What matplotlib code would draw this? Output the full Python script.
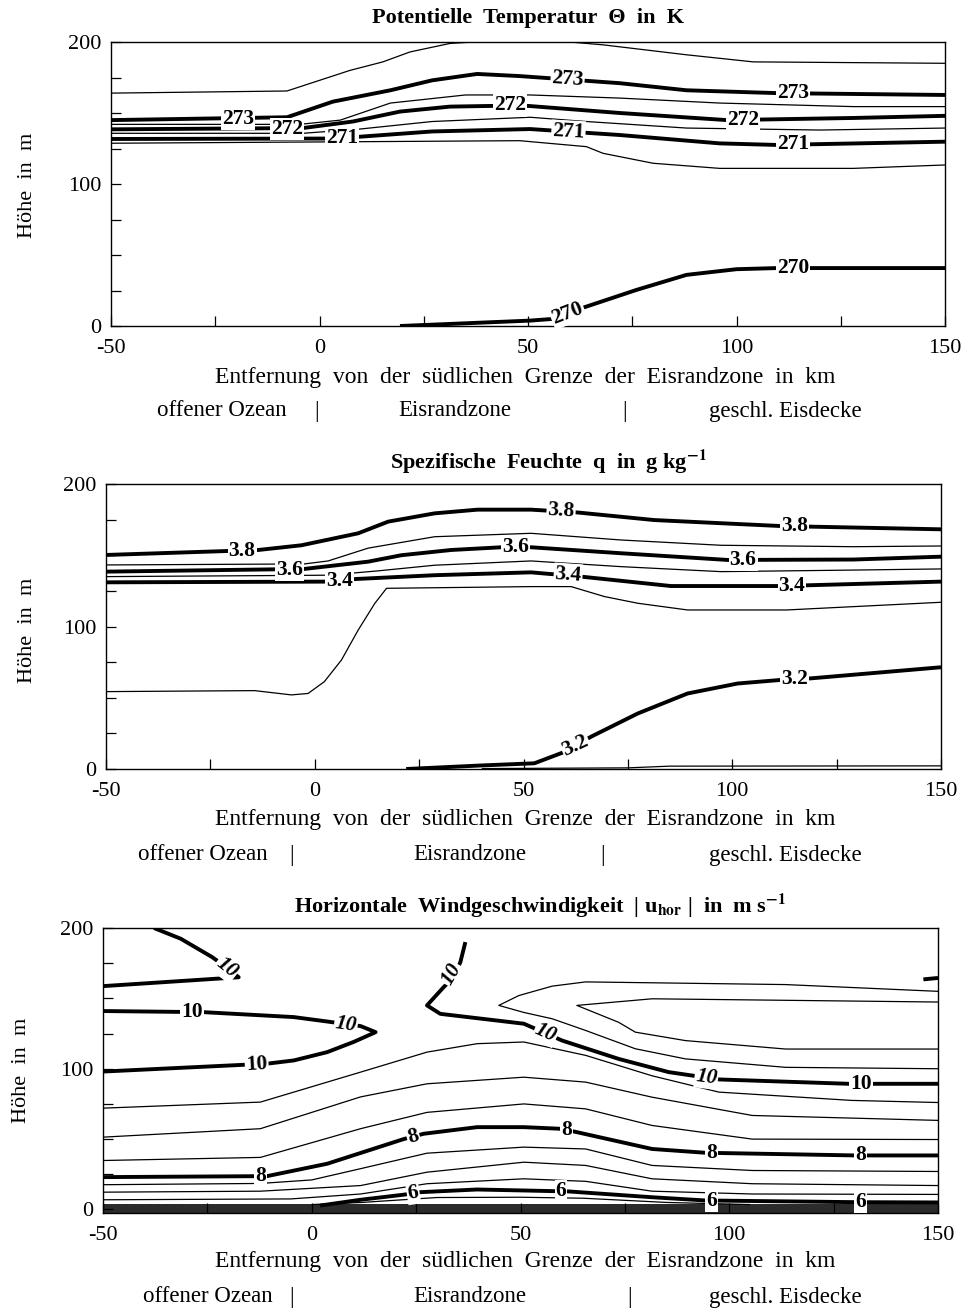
import numpy as np
import matplotlib.pyplot as plt

plt.rcParams['font.family'] = ['Liberation Serif', 'DejaVu Serif']
plt.rcParams['mathtext.fontset'] = 'stix'

W, H = 963, 1312

# ---------------- Panel 1: Potentielle Temperatur (K) ----------------
th_top_x = [-50, -7.8, 7.3, 15.2, 21.7, 31.3, 40, 58, 68, 88, 104, 150]
th_top_y = [164, 165.5, 180, 186, 193, 199, 200.5, 200.5, 198, 191, 186, 185]
th_273_x = [-50, -7.8, 3.2, 17, 27, 37.8, 48, 72, 88, 109.7, 150]
th_273_y = [145, 147, 158, 166, 173, 177.5, 176, 171, 166, 164, 162.7]
th_t1_x = [-50, -4.7, 5, 17, 35, 50.5, 72, 96, 128, 150]
th_t1_y = [142, 142, 145, 157, 162.7, 162.7, 160.5, 157, 154.5, 154.5]
th_272_x = [-50, -4, 8, 19.3, 31.3, 41.6, 50, 72, 97.7, 128, 150]
th_272_y = [138.5, 139.4, 144, 151, 154.5, 155, 155, 150, 145, 146.5, 148]
th_t2_x = [-50, -4, 9.7, 27, 50.5, 64, 88, 120, 150]
th_t2_y = [135.7, 135.7, 138.7, 144, 147, 144, 139.4, 138, 139.4]
th_271_x = [-50, 1.8, 9.7, 27, 50.5, 72, 96, 109.7, 150]
th_271_y = [131.7, 132, 133.3, 137, 138.7, 134.5, 128.6, 127.5, 129.8]
th_t3_x = [-50, 48, 64, 68, 80, 96, 128, 150]
th_t3_y = [128.7, 130.5, 126.3, 121.6, 114.6, 111, 111, 113.4]
th_270_x = [19.3, 50.5, 56, 63, 76, 88, 100, 109.7, 150]
th_270_y = [0, 3.8, 5, 12.7, 25.4, 36, 40, 40.8, 40.8]

th_lab_x = [-19.6, -7.8, 5.4, 45.6, 59.5, 59.7, 101.5, 113.5, 113.5, 113.5, 59.5]
th_lab_y = [146, 139, 132.5, 155.3, 174, 137, 145.2, 164, 128, 40.8, 8.8]
th_lab_txt = ['273', '272', '271', '272', '273', '271', '272', '273', '271', '270', '270']
th_lab_rot = [0, 0, 0, 0, -4, -3, 0, 0, 0, 0, 21]

# ---------------- Panel 2: Spezifische Feuchte (g/kg) ----------------
q_38_x = [-50, -20.7, -13.5, -3.2, 10.4, 17.6, 28.7, 39, 51.8, 63, 81.3, 111.6, 150]
q_38_y = [150.2, 153, 153.7, 157, 165.4, 173.6, 179.4, 182, 182, 180, 174.7, 170.5, 168.2]
q_ta_x = [-50, -2.5, 3.2, 12.8, 28.7, 51.8, 73.4, 97.3, 129, 150]
q_ta_y = [143.2, 143.9, 146, 155, 163, 165.4, 160.7, 157, 156, 156.5]
q_36_x = [-50, -2.5, 12.8, 20.7, 32.7, 44.7, 51.8, 73.4, 98.9, 129, 150]
q_36_y = [138.5, 140.4, 145.5, 150, 153.7, 155.6, 155.6, 151.4, 146.7, 147, 149]
q_tb_x = [-50, 3.2, 15, 28.7, 51.8, 73.4, 97.3, 129, 150]
q_tb_y = [135, 136, 139, 143, 146, 142, 138.5, 139.6, 140.4]
q_34_x = [-50, 3.3, 9.6, 28.7, 51.8, 63.8, 85.3, 111.6, 150]
q_34_y = [131, 131.5, 133.3, 136, 138, 135, 128.4, 128.4, 131.5]
q_tc_x = [-50, -14.4, -5.6, -1.6, 2.3, 6.4, 10.4, 14.4, 17.2, 51.8, 61.4, 69.4, 77.4, 89.3, 113, 150]
q_tc_y = [54.3, 55, 52, 53, 61.3, 76.5, 97.5, 116.3, 126.8, 128, 128, 121, 116.3, 111.6, 111.6, 117]
q_32_x = [21.9, 40, 52.6, 60, 66.2, 77.4, 89.3, 101.3, 111.6, 118.8, 150]
q_32_y = [0, 2.5, 4, 12.2, 22.7, 39, 53, 60, 62.5, 63.6, 71.4]
q_td_x = [40, 75, 85, 150]
q_td_y = [0.3, 0.8, 2, 2.2]

q_lab_x = [-17.4, -6, 6, 48, 59, 60.7, 102.6, 115, 114.3, 115, 62.5]
q_lab_y = [153.3, 139.6, 131.8, 155.6, 181, 136.5, 146.7, 170.2, 128.4, 63.2, 16]
q_lab_txt = ['3.8', '3.6', '3.4', '3.6', '3.8', '3.4', '3.6', '3.8', '3.4', '3.2', '3.2']
q_lab_rot = [0, 0, 0, 0, -3, -4, 0, 0, 0, 0, 25]

# ---------------- Panel 3: Horizontale Windgeschwindigkeit (m/s) ----------------
u_10a_x = [-37.8, -31.4, -23.9, -20.4, -17.5, -50]
u_10a_y = [200, 192.4, 179.4, 172, 165, 158.7]
u_10b_x = [-50, -25.9, -4.3, 3.6, 11.7, 15.3, 10, 3.7, -4.3, -10.7, -50]
u_10b_y = [141, 140.2, 136.7, 133.6, 130.3, 126, 119, 111.8, 105.9, 103.6, 98]
u_10c_x = [36.8, 35.6, 34, 31.6, 27.6, 30.8, 50.8, 60, 73.5, 85.5, 97.5, 128.6, 150]
u_10c_y = [190, 175.8, 165, 158, 145, 139, 132, 120, 107, 97.6, 92.4, 89.3, 89.3]
u_10d_x = [146.5, 150]
u_10d_y = [163.5, 164.5]
u_tongue_x = [150, 113.5, 65.6, 57.6, 49.6, 44.8, 50.8, 57.6, 65.6, 77.5, 89.5, 113.5, 150]
u_tongue_y = [155, 159.8, 161.7, 158.7, 152, 145, 140, 135.5, 127.2, 114.2, 107, 101, 100]
u_inner_x = [150, 81.5, 63.5, 73.5, 77.5, 89.5, 113.5, 150]
u_inner_y = [147.4, 149.7, 145, 133, 126, 120, 114, 114]
u_t72_x = [-50, -12.3, 11.7, 27.6, 39.6, 50.8, 65.6, 81.5, 97.5, 129.3, 150]
u_t72_y = [72, 76.3, 97.6, 111.8, 117.8, 119, 109.5, 95, 83.4, 77.5, 76]
u_t51_x = [-50, -12.3, 11.7, 27.6, 50.8, 65.6, 81.5, 105.5, 150]
u_t51_y = [51.4, 57.4, 80, 89.3, 94, 90.5, 79.8, 66.8, 63.3]
u_t35_x = [-50, -12.3, 11.7, 27.6, 50.8, 65.6, 81.5, 105.5, 150]
u_t35_y = [34.8, 37, 57.4, 69, 75, 71.5, 59.7, 50, 49.7]
u_8_x = [-50, -10.7, 3.7, 22, 26.8, 39.6, 50.8, 59.2, 62.8, 81.5, 94.3, 130.2, 150]
u_8_y = [23, 23.7, 32.5, 50, 53.8, 58.5, 58.5, 57.4, 55.4, 43, 40.3, 38.4, 38.4]
u_t17_x = [-50, -12.3, 0, 11.7, 27.6, 50.8, 65.6, 81.5, 105.5, 150]
u_t17_y = [17.6, 18.5, 21, 29, 40, 44.3, 43, 31.3, 27.7, 27]
u_t12_x = [-50, -12.3, 11.7, 27.6, 50.8, 65.6, 81.5, 105.5, 150]
u_t12_y = [12.3, 13, 17, 26.5, 33.6, 31.3, 21.8, 18.3, 17]
u_t7_x = [-50, -5, 11.7, 27.6, 50.8, 65.6, 81.5, 105.5, 150]
u_t7_y = [6.9, 7.5, 11, 18.3, 21.8, 20, 13, 11, 10.7]
u_6_x = [2, 11.7, 22, 26, 39.6, 50.8, 61.6, 81.5, 94.3, 130.2, 150]
u_6_y = [2.8, 6.9, 10.5, 12.3, 14.2, 13.5, 12.8, 8.7, 6.4, 5.2, 5]
u_t4_x = [0, 12, 30, 50, 65, 85, 105]
u_t4_y = [3.5, 5, 8.5, 8.7, 8, 5, 3.5]
u_band_x = [-50, 150]
u_band_top = [4.2, 4.2]

u_lab_x = [-20.4, -28.7, 8.2, -13.2, 33.6, 56, 94.5, 131.5,
           -12.3, 24.3, 61, 95.8, 131.5, 24.3, 59.7, 95.8, 131.5]
u_lab_y = [171.5, 140.2, 131.7, 103.3, 167, 125.2, 93.7, 89.3,
           23.5, 51.8, 56.4, 40.2, 38.4, 11.5, 13, 6.3, 5.2]
u_lab_txt = ['10'] * 8 + ['8'] * 5 + ['6'] * 4
u_lab_rot = [-38, 0, -8, 3, 60, -24, -7, 0, 0, 15, 0, 0, 0, 9, 0, 0, 0]
u_lab_style = ['italic', 'normal', 'italic', 'normal', 'italic', 'italic', 'italic', 'normal',
               'normal', 'normal', 'normal', 'normal', 'normal', 'normal', 'normal', 'normal', 'normal']

THICK, THIN = 2.8, 0.9


def px_rect(left, right, top, bottom):
    return [left / W, 1 - bottom / H, (right - left) / W, (bottom - top) / H]


def setup_axes(ax, ymin=0):
    ax.set_xlim(-50, 150)
    ax.set_ylim(ymin, 200)
    ax.set_xticks(np.arange(-50, 151, 25))
    ax.set_xticklabels(['-50', '', '0', '', '50', '', '100', '', '150'])
    ax.set_yticks(np.arange(0, 201, 25))
    ax.set_yticklabels(['0', '', '', '', '100', '', '', '', '200'])
    ax.tick_params(direction='in', length=7, width=0.9, labelsize=16,
                   top=False, right=False)
    ax.tick_params(axis='x', pad=9)
    ax.tick_params(axis='y', pad=7)
    for sp in ax.spines.values():
        sp.set_linewidth(1.0)


def draw_lines(ax, lines):
    for xs, ys, lw in lines:
        ax.plot(xs, ys, color='black', lw=lw, solid_capstyle='butt',
                solid_joinstyle='round', zorder=2)


def draw_labels(ax, xs, ys, txts, rots, styles=None):
    for i in range(len(xs)):
        st = styles[i] if styles else 'normal'
        ax.text(xs[i], ys[i], txts[i], rotation=rots[i], rotation_mode='anchor',
                ha='center', va='center', fontsize=15.5, fontweight='bold', style=st,
                bbox=dict(boxstyle='square,pad=0.05', fc='white', ec='none'), zorder=4)


def texts_below(lab_py, zone_py, zone_pos):
    fig.text(525 / W, 1 - lab_py / H,
             'Entfernung  von  der  südlichen  Grenze  der  Eisrandzone  in  km',
             ha='center', va='center', fontsize=17)
    for px, s in zip(zone_pos, ['offener Ozean', '|', 'Eisrandzone', '|', 'geschl. Eisdecke']):
        fig.text(px / W, 1 - zone_py / H, s, ha='center', va='center', fontsize=16.5)


fig = plt.figure(figsize=(W / 100, H / 100), dpi=100)

# panel 1
ax1 = fig.add_axes(px_rect(111, 945, 42, 326))
setup_axes(ax1)
draw_lines(ax1, [(th_top_x, th_top_y, THIN), (th_273_x, th_273_y, THICK),
                 (th_t1_x, th_t1_y, THIN), (th_272_x, th_272_y, THICK),
                 (th_t2_x, th_t2_y, THIN), (th_271_x, th_271_y, THICK),
                 (th_t3_x, th_t3_y, THIN), (th_270_x, th_270_y, THICK)])
draw_labels(ax1, th_lab_x, th_lab_y, th_lab_txt, th_lab_rot)
fig.text(528 / W, 1 - 18 / H, 'Potentielle  Temperatur  Θ  in  K',
         ha='center', va='center', fontsize=16, fontweight='bold')
fig.text(27 / W, 1 - 185 / H, 'Höhe  in  m', rotation=90, ha='center', va='center', fontsize=16)
texts_below(378, 411, [222, 317, 455, 625, 785])

# panel 2
ax2 = fig.add_axes(px_rect(106, 941, 484, 769))
setup_axes(ax2)
draw_lines(ax2, [(q_38_x, q_38_y, THICK), (q_ta_x, q_ta_y, THIN),
                 (q_36_x, q_36_y, THICK), (q_tb_x, q_tb_y, THIN),
                 (q_34_x, q_34_y, THICK), (q_tc_x, q_tc_y, THIN),
                 (q_32_x, q_32_y, THICK), (q_td_x, q_td_y, THIN)])
draw_labels(ax2, q_lab_x, q_lab_y, q_lab_txt, q_lab_rot)
fig.text(548 / W, 1 - 462 / H, r'Spezifische  Feuchte  q  in  g kg$^{\mathbf{-1}}$',
         ha='center', va='center', fontsize=16, fontweight='bold')
fig.text(27 / W, 1 - 630 / H, 'Höhe  in  m', rotation=90, ha='center', va='center', fontsize=16)
texts_below(820, 855, [203, 292, 470, 603, 785])

# panel 3
ax3 = fig.add_axes(px_rect(103, 938, 928, 1213))
setup_axes(ax3, ymin=-2.5)
ax3.fill_between(u_band_x, -2.5, u_band_top, color='#2b2b2b', lw=0, zorder=1)
draw_lines(ax3, [(u_10a_x, u_10a_y, THICK), (u_10b_x, u_10b_y, THICK),
                 (u_10c_x, u_10c_y, THICK), (u_10d_x, u_10d_y, THICK),
                 (u_tongue_x, u_tongue_y, THIN), (u_inner_x, u_inner_y, THIN),
                 (u_t72_x, u_t72_y, THIN), (u_t51_x, u_t51_y, THIN),
                 (u_t35_x, u_t35_y, THIN), (u_8_x, u_8_y, THICK),
                 (u_t17_x, u_t17_y, THIN), (u_t12_x, u_t12_y, THIN),
                 (u_t7_x, u_t7_y, THIN), (u_6_x, u_6_y, THICK),
                 (u_t4_x, u_t4_y, THIN)])
draw_labels(ax3, u_lab_x, u_lab_y, u_lab_txt, u_lab_rot, u_lab_style)
fig.text(540 / W, 1 - 906 / H,
         r'Horizontale  Windgeschwindigkeit  | u$_{\mathbf{hor}}$ |  in  m s$^{\mathbf{-1}}$',
         ha='center', va='center', fontsize=16, fontweight='bold')
fig.text(22 / W, 1 - 1070 / H, 'Höhe  in  m', rotation=90, ha='center', va='center', fontsize=16)
texts_below(1262, 1297, [208, 292, 470, 630, 785])

fig.savefig('out.png', dpi=100)
